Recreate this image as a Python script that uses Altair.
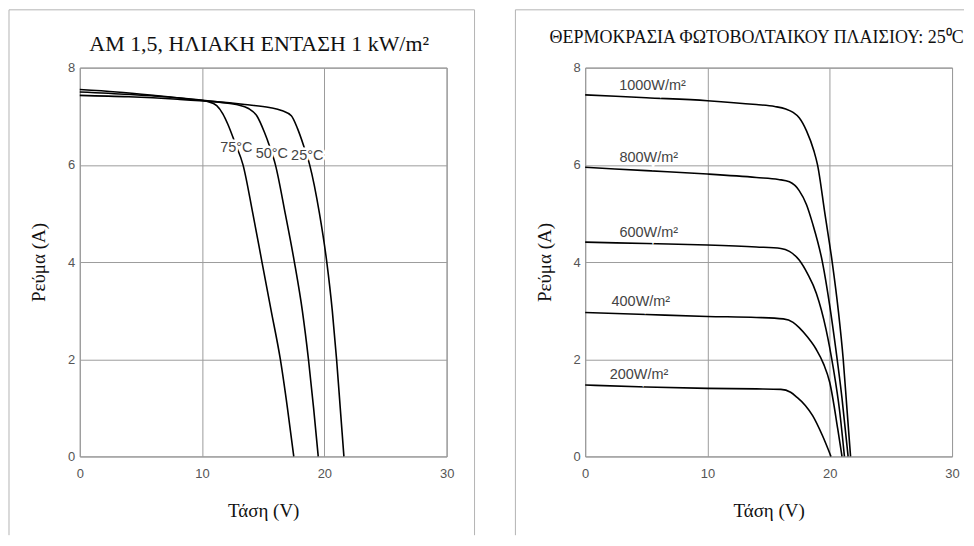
import altair as alt
import pandas as pd

# ---------------- data ----------------
X_TICKS = [0, 10, 20, 30]
Y_TICKS = [0, 2, 4, 6, 8]

# Left panel: AM 1.5, irradiance 1 kW/m2, three module temperatures
T25_V = [0, 4, 8, 11, 13.5, 15.5, 16.5, 17.3, 17.8, 18.3, 18.8, 19.6, 20.2, 20.65, 21.0, 21.3, 21.6]
T25_I = [7.43, 7.4, 7.35, 7.3, 7.24, 7.18, 7.12, 7.01, 6.75, 6.4, 6.0, 5.0, 4.0, 3.0, 2.0, 1.0, 0]
T50_V = [0, 4, 8, 11, 12.8, 13.8, 14.5, 15.1, 15.5, 16.0, 16.8, 17.55, 18.2, 18.7, 19.12, 19.5]
T50_I = [7.5, 7.45, 7.38, 7.3, 7.24, 7.16, 7.0, 6.67, 6.4, 6.0, 5.0, 4.0, 3.0, 2.0, 1.0, 0]
T75_V = [0, 3, 6, 9, 10.5, 11.2, 11.7, 12.1, 12.7, 13.35, 14.15, 14.9, 15.65, 16.4, 16.98, 17.5]
T75_I = [7.55, 7.5, 7.43, 7.35, 7.3, 7.22, 7.05, 6.84, 6.45, 6.0, 5.0, 4.0, 3.0, 2.0, 1.0, 0]
LEFT_NAMES = ["25°C", "50°C", "75°C"]
LEFT_LABEL_V = [18.6, 15.7, 12.8]
LEFT_LABEL_I = [6.18, 6.23, 6.35]

# Right panel: module temperature 25 C, five irradiance levels
G1000_V = [0, 5, 10, 14, 15.5, 16.4, 17.0, 17.5, 18.1, 18.7, 19.0, 19.6, 20.2, 20.7, 21.1, 21.4, 21.7]
G1000_I = [7.44, 7.38, 7.32, 7.24, 7.2, 7.15, 7.08, 6.97, 6.7, 6.29, 6.0, 5.0, 4.0, 3.0, 2.0, 1.0, 0]
G800_V = [0, 5, 10, 14, 15.8, 16.7, 17.5, 18.1, 18.6, 19.4, 20.0, 20.5, 21.0, 21.5]
G800_I = [5.95, 5.88, 5.81, 5.74, 5.7, 5.65, 5.47, 5.18, 4.79, 4.0, 3.1, 2.2, 1.2, 0]
G600_V = [0, 5, 10, 14, 16.0, 16.7, 17.5, 18.2, 18.9, 19.7, 20.3, 20.8, 21.2]
G600_I = [4.41, 4.38, 4.35, 4.31, 4.28, 4.22, 4.04, 3.75, 3.36, 2.61, 1.8, 0.95, 0]
G400_V = [0, 5, 10, 14, 16.2, 17.0, 17.5, 18.2, 18.9, 19.5, 20.0, 20.65, 21.0]
G400_I = [2.96, 2.92, 2.88, 2.86, 2.83, 2.76, 2.65, 2.45, 2.2, 1.9, 1.52, 0.57, 0]
G200_V = [0, 5, 10, 14, 16.0, 16.8, 17.3, 18.0, 18.6, 19.4, 20.1]
G200_I = [1.47, 1.43, 1.4, 1.39, 1.38, 1.32, 1.22, 1.05, 0.84, 0.43, 0]
RIGHT_NAMES = ["1000W/m²", "800W/m²", "600W/m²", "400W/m²", "200W/m²"]
RIGHT_LABEL_V = [5.5, 5.2, 5.2, 4.55, 4.4]
RIGHT_LABEL_I = [7.63, 6.15, 4.59, 3.18, 1.67]

LEFT_TITLE = "AM 1,5,  ΗΛΙΑΚΗ ΕΝΤΑΣΗ 1 kW/m²"
RIGHT_TITLE = "ΘΕΡΜΟΚΡΑΣΙΑ ΦΩΤΟΒΟΛΤΑΙΚΟΥ ΠΛΑΙΣΙΟΥ: 25⁰C"
X_TITLE = "Τάση (V)"
Y_TITLE = "Ρεύμα (A)"


def curves_df(names, vs_list, is_list):
    rows = []
    for n, vs, cs in zip(names, vs_list, is_list):
        for v, c in zip(vs, cs):
            rows.append({"curve": n, "V": v, "I": c})
    return pd.DataFrame(rows)


left_df = curves_df(LEFT_NAMES, [T25_V, T50_V, T75_V], [T25_I, T50_I, T75_I])
right_df = curves_df(RIGHT_NAMES, [G1000_V, G800_V, G600_V, G400_V, G200_V],
                     [G1000_I, G800_I, G600_I, G400_I, G200_I])
left_lab = pd.DataFrame({"label": LEFT_NAMES, "V": LEFT_LABEL_V, "I": LEFT_LABEL_I})
right_lab = pd.DataFrame({"label": RIGHT_NAMES, "V": RIGHT_LABEL_V, "I": RIGHT_LABEL_I})

SERIF = "Liberation Serif"
SANS = "Liberation Sans"
GRID = "#9c9c9c"
FRAME = "#b4b4b4"

x_enc = alt.X("V:Q", scale=alt.Scale(domain=[0, 30], nice=False),
              axis=alt.Axis(values=X_TICKS, title=X_TITLE, labelFlush=False,
                            labelPadding=11, titlePadding=21))
y_enc = alt.Y("I:Q", scale=alt.Scale(domain=[0, 8], nice=False),
              axis=alt.Axis(values=Y_TICKS, title=Y_TITLE, labelFlush=False,
                            labelPadding=5, titlePadding=19))

one = pd.DataFrame({"k": [0]})


def frame_rules(left_px, top_px, right_px, bottom_px, with_right):
    """Thin light-grey border of the scanned figure around a panel (pixels)."""
    parts = [
        alt.Chart(one).mark_rule(color=FRAME, strokeWidth=1).encode(
            x=alt.value(left_px), y=alt.value(top_px), y2=alt.value(bottom_px)),
        alt.Chart(one).mark_rule(color=FRAME, strokeWidth=1).encode(
            y=alt.value(top_px), x=alt.value(left_px), x2=alt.value(right_px)),
    ]
    if with_right:
        parts.append(alt.Chart(one).mark_rule(color=FRAME, strokeWidth=1).encode(
            x=alt.value(right_px), y=alt.value(top_px), y2=alt.value(bottom_px)))
    return parts


def panel(df, lab, title, tsize, toffset, tdx, frame):
    lines = alt.Chart(df).mark_line(color="black", strokeWidth=1.6,
                                    interpolate="monotone").encode(
        x=x_enc, y=y_enc, detail="curve:N")
    halo = alt.Chart(lab).mark_text(font=SANS, fontSize=14.5, stroke="white",
                                    strokeWidth=5, color="white").encode(
        x="V:Q", y="I:Q", text="label:N")
    txt = alt.Chart(lab).mark_text(font=SANS, fontSize=14.5, color="#444").encode(
        x="V:Q", y="I:Q", text="label:N")
    return alt.layer(*frame, lines, halo, txt).properties(
        width=368, height=390,
        title=alt.TitleParams(text=title, font=SERIF, fontSize=tsize,
                              fontWeight="normal", color="#111",
                              baseline="alphabetic", offset=toffset,
                              anchor="middle", dx=tdx, frame="group"))


left = panel(left_df, left_lab, LEFT_TITLE, 22, -64, -4,
             frame_rules(-71, -58, 396, 469, True))
right = panel(right_df, right_lab, RIGHT_TITLE, 18, -52, -12,
              frame_rules(-70, -58, 380, 469, False))

chart = alt.hconcat(left, right, spacing=39).properties(
    padding={"left": 0, "top": 0, "right": 0, "bottom": 0}
).configure_view(
    stroke="#8a8a8a", strokeWidth=1
).configure_axis(
    grid=True, gridColor=GRID, gridWidth=1, ticks=False, domain=False,
    labelFont=SANS, labelFontSize=13, labelColor="#555",
    titleFont=SERIF, titleFontSize=19, titleFontWeight="normal", titleColor="#111"
)

chart.save("out.html", embed_options={"renderer": "svg", "actions": False})
